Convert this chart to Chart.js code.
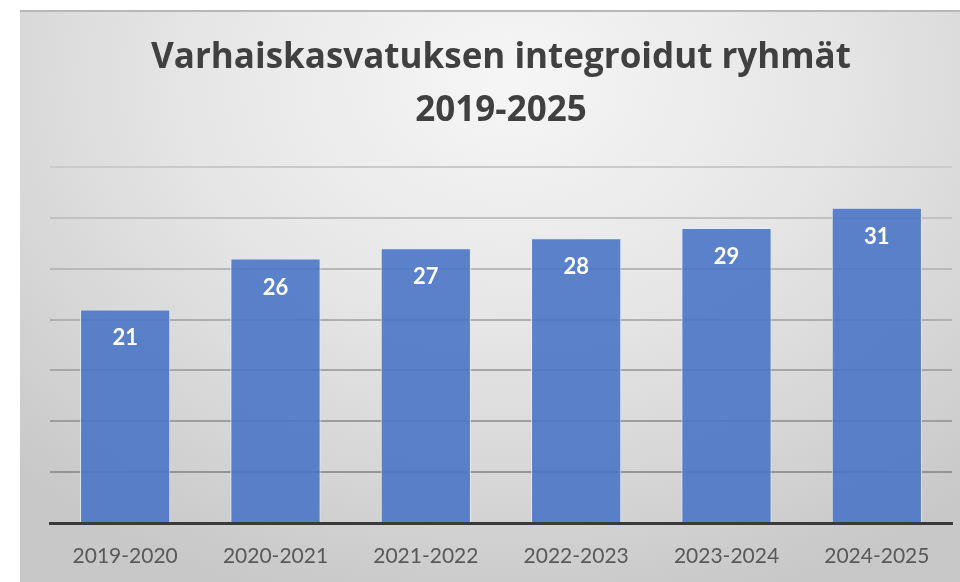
<!DOCTYPE html>
<html lang="fi">
<head>
<meta charset="UTF-8" />
<title>Varhaiskasvatuksen integroidut ryhmät</title>
<script src="https://cdn.jsdelivr.net/npm/chart.js"></script>
<style>
    html, body {
        margin: 0;
        padding: 0;
        background: #fff;
        width: 960px;
        height: 582px;
        overflow: hidden;
    }

    .paneeli {
        position: absolute;
        left: 20px;
        top: 10px;
        width: 940px;
        height: 572px;
        border-top: 2px solid #b8b8b8;
        box-sizing: border-box;
        background: radial-gradient(ellipse 75% 95% at 52% 12%, #f6f6f6 0%, #e6e6e6 45%, #d6d6d6 75%, #c8c8c8 100%);
    }

    canvas {
        display: block;
    }
</style>
</head>
<body>
    <div class="paneeli">
        <canvas id="graafi" width="940" height="570"></canvas>
    </div>

<script>
    // Data
    const kaudet = ['2019-2020', '2020-2021', '2021-2022', '2022-2023', '2023-2024', '2024-2025'];
    const ryhmat = [21, 26, 27, 28, 29, 31];
    const otsikko = ['Varhaiskasvatuksen integroidut ryhmät', '2019-2025'];
    const asteikonMax = 35;
    const asteikonVali = 5;

    const fontti = "Lato, 'Open Sans', sans-serif";
    const otsikkoFontti = "'Open Sans', Lato, sans-serif";

    // Arvot palkkien sisään
    const arvoTekstit = {
        id: 'arvoTekstit',
        afterDatasetsDraw(chart) {
            const ctx = chart.ctx;
            const meta = chart.getDatasetMeta(0);
            ctx.save();
            ctx.fillStyle = '#ffffff';
            ctx.font = "bold 22px " + fontti;
            ctx.textAlign = 'center';
            ctx.textBaseline = 'middle';
            meta.data.forEach((palkki, i) => {
                ctx.fillText(String(ryhmat[i]), palkki.x, palkki.y + 29);
            });
            ctx.restore();
        }
    };

    // Ruudukon viivat tummenevat alaspäin
    function viivaVari(ctx) {
        const v = ctx.tick ? ctx.tick.value : 0;
        const t = v / asteikonMax;
        const c = Math.round(140 + t * 62);
        return `rgb(${c},${c},${c})`;
    }

    new Chart(document.getElementById('graafi'), {
        type: 'bar',
        data: {
            labels: kaudet,
            datasets: [{
                data: ryhmat,
                backgroundColor: 'rgba(74,117,198,0.9)',
                borderColor: 'rgba(225,235,250,0.9)',
                borderWidth: 1,
                barPercentage: 0.6,
                categoryPercentage: 1.0
            }]
        },
        options: {
            responsive: false,
            animation: false,
            layout: {
                padding: { left: 30, right: 8, top: 0, bottom: 14 }
            },
            scales: {
                x: {
                    grid: { display: false, drawTicks: false },
                    border: { display: true, color: '#3a3a3a', width: 3 },
                    ticks: {
                        color: '#595959',
                        padding: 21,
                        font: { family: fontti, size: 21 }
                    },
                    afterFit(scale) {
                        scale.height = 45;
                    }
                },
                y: {
                    min: 0,
                    max: asteikonMax,
                    ticks: { display: false, stepSize: asteikonVali },
                    border: { display: false },
                    grid: { color: viivaVari, lineWidth: 2, drawTicks: false }
                }
            },
            plugins: {
                legend: { display: false },
                tooltip: { enabled: false },
                title: {
                    display: true,
                    text: otsikko,
                    color: '#404040',
                    font: { family: otsikkoFontti, size: 35, weight: 'bold', lineHeight: 1.5 },
                    padding: { top: 20, bottom: 30 }
                }
            }
        },
        plugins: [arvoTekstit]
    });
</script>
</body>
</html>
